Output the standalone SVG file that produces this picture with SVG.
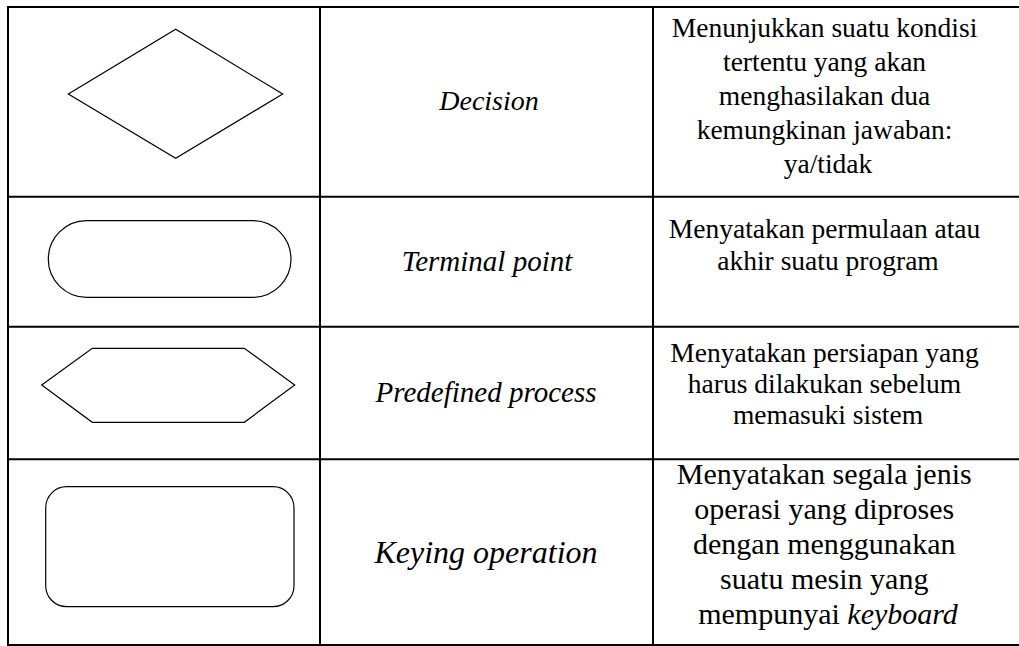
<svg xmlns="http://www.w3.org/2000/svg" width="1019" height="646" viewBox="0 0 1019 646">
  <style>
    .grid { stroke: #000; stroke-width: 2; fill: none; }
    .shape { stroke: #000; stroke-width: 1.2; fill: #fff; }
    .f1 { font-family: Liberation Serif, serif; fill: #000; text-anchor: middle; }
    .name { font-style: italic; font-size: 28px; }
    .desc { font-size: 27.5px; }
    .big { font-size: 30px; }
  </style>
  <rect x="0" y="0" width="1019" height="646" fill="#fff"/>
  <g id="grid" class="grid">
    <line x1="7" y1="7" x2="1019" y2="7"/>
    <line x1="8" y1="196.7" x2="1019" y2="196.7"/>
    <line x1="8" y1="326.7" x2="1019" y2="326.7"/>
    <line x1="8" y1="459.3" x2="1019" y2="459.3"/>
    <line x1="7" y1="645" x2="1019" y2="645"/>
    <line x1="8" y1="6" x2="8" y2="646"/>
    <line x1="320" y1="6" x2="320" y2="646"/>
    <line x1="653" y1="6" x2="653" y2="646"/>
  </g>
  <g id="connectors"></g>
  <g id="row-decision">
    <polygon class="shape" points="68.3,94 175.7,29.3 282.7,94 175.7,158.3"/>
    <text class="name f1" x="489" y="110">Decision</text>
    <text class="desc f1">
      <tspan x="828" y="37">Menunjukkan suatu kondisi</tspan>
      <tspan x="828" y="71">tertentu yang akan</tspan>
      <tspan x="828" y="105">menghasilakan dua</tspan>
      <tspan x="828" y="139">kemungkinan jawaban:</tspan>
      <tspan x="828" y="173">ya/tidak</tspan>
    </text>
  </g>
  <g id="row-terminal">
    <rect class="shape" x="48.3" y="220.7" width="242.7" height="76.6" rx="38.3" ry="38.3"/>
    <text class="name f1" x="487" y="271" style="font-size:29px">Terminal point</text>
    <text class="desc f1">
      <tspan x="828" y="238">Menyatakan permulaan atau</tspan>
      <tspan x="828" y="270">akhir suatu program</tspan>
    </text>
  </g>
  <g id="row-predefined">
    <polygon class="shape" points="41.7,385 92.3,348.3 244.3,348.3 294.7,385 244.3,422.3 92.3,422.3"/>
    <text class="name f1" x="486" y="402" style="font-size:29px">Predefined process</text>
    <text class="desc f1">
      <tspan x="828" y="362">Menyatakan persiapan yang</tspan>
      <tspan x="828" y="393">harus dilakukan sebelum</tspan>
      <tspan x="828" y="424">memasuki sistem</tspan>
    </text>
  </g>
  <g id="row-keying">
    <rect class="shape" x="45.7" y="486.7" width="248.3" height="120" rx="21" ry="21"/>
    <text class="name f1" x="486" y="563" style="font-size:32px">Keying operation</text>
    <text class="desc big f1">
      <tspan x="828" y="484">Menyatakan segala jenis</tspan>
      <tspan x="828" y="519">operasi yang diproses</tspan>
      <tspan x="828" y="554">dengan menggunakan</tspan>
      <tspan x="828" y="589">suatu mesin yang</tspan>
      <tspan x="828" y="624">mempunyai <tspan font-style="italic">keyboard</tspan></tspan>
    </text>
  </g>
</svg>
